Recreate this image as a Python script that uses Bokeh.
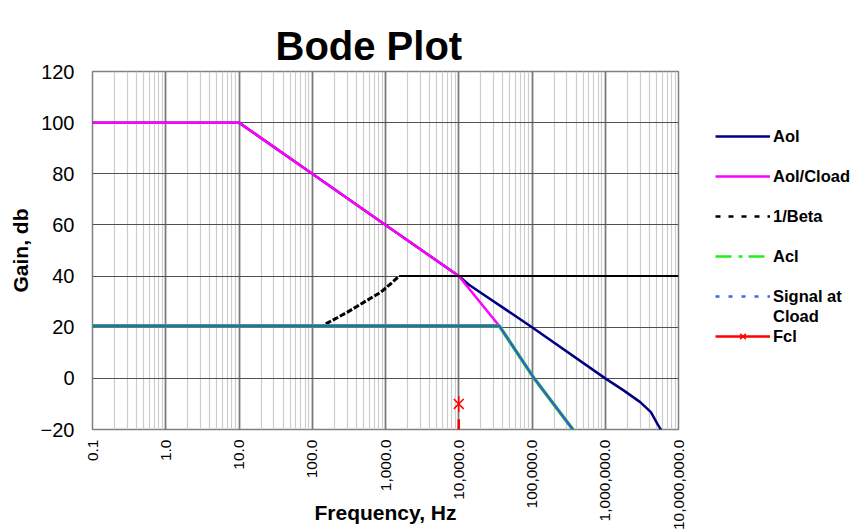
import math
from bokeh.plotting import figure
from bokeh.layouts import row
from bokeh.models import (FixedTicker, NumeralTickFormatter, Legend, LegendItem, Range1d)
from bokeh.embed import file_html
from bokeh.resources import INLINE

# ---------------- data ----------------
aol_freq = [0.1, 10, 100, 1000, 10000, 13800, 20000, 100000, 1000000,
            1800000, 3000000, 4200000, 5150000, 6800000]
aol_db = [100, 100, 80, 60, 40, 36.6, 33.5, 20, 0, -4.8, -9.3, -13.2, -17.8, -23.5]

cload_freq = [0.1, 10, 100, 1000, 10000, 35600]
cload_db = [100, 100, 80, 60, 40, 20.6]

beta_freq = [153, 303, 510, 863, 1180, 1535, 10000000]
beta_db = [21.3, 25.9, 29.8, 33.7, 37.0, 40.0, 40.0]

acl_freq = [0.1, 35600, 107000, 426000]
acl_db = [20.6, 20.6, 0, -22.7]

sig_freq = [0.1, 35600, 107000, 426000]
sig_db = [20.6, 20.6, 0, -22.7]

fcl_freq = [10000]
fcl_db = [-10]
fcl_line_freq = [10000, 10000]
fcl_line_db = [-16, -25]

x_ticks = [0.1, 1, 10, 100, 1000, 10000, 100000, 1000000, 10000000]
y_ticks = [-20, 0, 20, 40, 60, 80, 100, 120]

FONT = "Liberation Sans"

# styles
NAVY, MAGENTA, GREEN, BLUE, RED = "#000080", "#FF00FF", "#22EE22", "#3A5FCD", "#FF0000"

p = figure(frame_width=586, frame_height=358, x_axis_type="log",
           x_range=Range1d(0.1, 1e7), y_range=Range1d(-20, 120),
           output_backend="svg", toolbar_location=None,
           min_border_left=92, min_border_right=12,
           min_border_top=71, min_border_bottom=101,
           background_fill_color="white", border_fill_color="white")

# title
p.title.text = "Bode Plot"
p.title.text_font = FONT
p.title.text_font_size = "40px"
p.title.text_font_style = "bold"
p.title.text_color = "black"
p.title.align = "left"
p.title.offset = 183
p.title.standoff = 7

p.outline_line_color = "#808080"
p.outline_line_width = 1.5

# x axis
minor = [k * 10.0 ** d for d in range(-1, 7) for k in range(2, 10)]
p.xaxis.ticker = FixedTicker(ticks=x_ticks, minor_ticks=minor)
p.xaxis.formatter = NumeralTickFormatter(format="0,0.0")
p.xaxis.major_label_orientation = math.pi / 2
p.xaxis.major_label_text_font = FONT
p.xaxis.major_label_text_font_size = "15.5px"
p.xaxis.major_label_text_color = "black"
p.xaxis.major_label_standoff = 10
p.xaxis.major_tick_out = 0
p.xaxis.major_tick_in = 0
p.xaxis.minor_tick_out = 0
p.xaxis.minor_tick_in = 0
p.xaxis.axis_line_color = None
p.xaxis.axis_label = "Frequency, Hz"
p.xaxis.axis_label_text_font = FONT
p.xaxis.axis_label_text_font_size = "21px"
p.xaxis.axis_label_text_font_style = "bold"
p.xaxis.axis_label_text_color = "black"
p.xaxis.axis_label_standoff = -32

# y axis
p.yaxis.ticker = FixedTicker(ticks=y_ticks)
p.yaxis.major_label_text_font = FONT
p.yaxis.major_label_text_font_size = "20px"
p.yaxis.major_label_text_color = "black"
p.yaxis.major_label_standoff = 18
p.yaxis.major_tick_out = 0
p.yaxis.major_tick_in = 0
p.yaxis.minor_tick_out = 0
p.yaxis.minor_tick_in = 0
p.yaxis.axis_line_color = None
p.yaxis.axis_label = "Gain, db"
p.yaxis.axis_label_text_font = FONT
p.yaxis.axis_label_text_font_size = "21px"
p.yaxis.axis_label_text_font_style = "bold"
p.yaxis.axis_label_text_color = "black"
p.yaxis.axis_label_standoff = 6

# grids
p.xgrid.grid_line_color = "#7a7a7a"
p.xgrid.grid_line_width = 1.8
p.xgrid.minor_grid_line_color = "#cdcdcd"
p.xgrid.minor_grid_line_width = 1.2
p.ygrid.grid_line_color = "#505050"
p.ygrid.grid_line_width = 1.2

# ---------------- series ----------------
p.line(aol_freq, aol_db, line_color=NAVY, line_width=2.5)
p.line(cload_freq, cload_db, line_color=MAGENTA, line_width=2.5)
p.line(beta_freq[:6], beta_db[:6], line_color="black", line_width=3, line_dash="6 2")
p.line(beta_freq[5:], beta_db[5:], line_color="black", line_width=2)
p.line(acl_freq, acl_db, line_color=GREEN, line_width=3.5)
p.line(sig_freq, sig_db, line_color=BLUE, line_width=2.5)
p.line(fcl_line_freq, fcl_line_db, line_color=RED, line_width=2.5)
p.scatter(fcl_freq, fcl_db, marker="x", size=14, line_color=RED, line_width=1.5)
p.scatter(fcl_freq, fcl_db, marker="dash", angle=math.pi / 2, size=16,
          line_color=RED, line_width=1.5)

# ---------------- legend panel (separate canvas to the right) ----------------
# its ranges are kept away from the data so that only the legend keys show
q = figure(width=168, height=530, output_backend="svg", toolbar_location=None,
           x_range=Range1d(0, 1), y_range=Range1d(0, 1),
           x_axis_location=None, y_axis_location=None, min_border=0,
           outline_line_color=None, background_fill_color="white",
           border_fill_color="white")
q.grid.visible = False

k_aol = q.line(aol_freq[:1], aol_db[:1], line_color=NAVY, line_width=2.5)
k_cload = q.line(cload_freq[:1], cload_db[:1], line_color=MAGENTA, line_width=2.5)
k_beta = q.line(beta_freq[:1], beta_db[:1], line_color="black", line_width=2.5, line_dash="5 8")
k_acl = q.line(acl_freq[:1], acl_db[:1], line_color=GREEN, line_width=2.5, line_dash="16 7 4 6")
k_sig = q.line(sig_freq[:1], sig_db[:1], line_color="#4169E1", line_width=2.5, line_dash="4 9")
k_fcl = q.line(fcl_freq, fcl_db, line_color=RED, line_width=2.5)
k_fcl_x = q.scatter(fcl_freq, fcl_db, marker="x", size=14, line_color=RED, line_width=1.5)
k_fcl_v = q.scatter(fcl_freq, fcl_db, marker="dash", angle=math.pi / 2, size=16,
                    line_color=RED, line_width=1.5)
k_blank = q.line(fcl_freq, fcl_db, line_alpha=0)

def blank():
    return LegendItem(label=" ", renderers=[k_blank])

items = [
    blank(),
    LegendItem(label="Aol", renderers=[k_aol]),
    blank(),
    LegendItem(label="Aol/Cload", renderers=[k_cload]),
    blank(),
    LegendItem(label="1/Beta", renderers=[k_beta]),
    blank(),
    LegendItem(label="Acl", renderers=[k_acl]),
    blank(),
    LegendItem(label="Signal at", renderers=[k_sig]),
    LegendItem(label="Cload", renderers=[k_blank]),
    LegendItem(label="Fcl", renderers=[k_fcl, k_fcl_x, k_fcl_v]),
]
lg = Legend(items=items, location="top_left", padding=0, margin=25, spacing=0,
            title=" ", title_text_font_size="2px", title_standoff=8,
            glyph_width=55, glyph_height=20, label_height=20,
            label_standoff=3, label_text_font=FONT,
            label_text_font_style="bold", label_text_font_size="16.5px",
            label_text_color="black",
            border_line_color=None, background_fill_alpha=0)
q.add_layout(lg)

layout = row(p, q)
open("out.html", "w").write(file_html(layout, INLINE))
